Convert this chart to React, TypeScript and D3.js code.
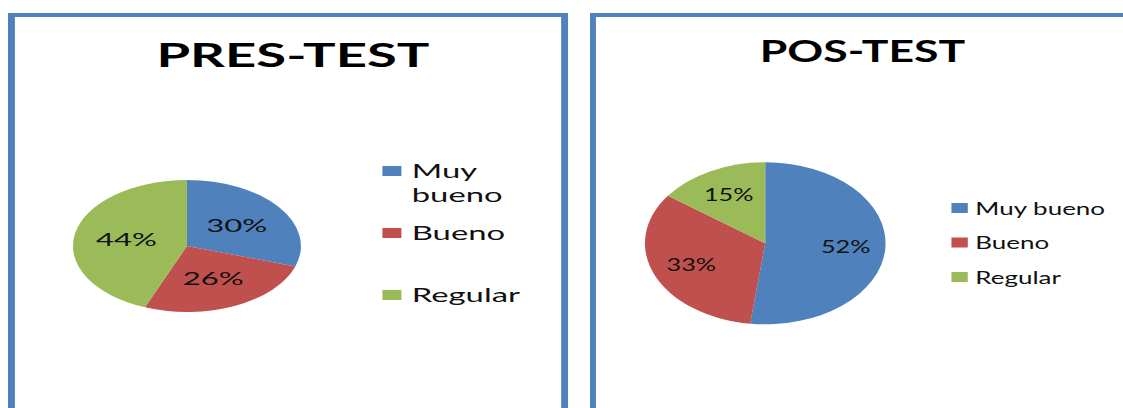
import React from 'react';
import * as d3 from 'd3';

// ---- data ----
const categories = ['Muy bueno', 'Bueno', 'Regular'];
const sliceColors = ['#4F81BD', '#C0504D', '#9BBB59'];
const preTestValues = [30, 26, 44];
const posTestValues = [52, 33, 15];
const chartTitles = ['PRES-TEST', 'POS-TEST'];

// ---- layout (local, unstretched coordinates; each panel is stretched by sx) ----
interface PanelLayout {
  x0: number; sx: number; width: number;
  titleX: number; titleY: number; titleSize: number;
  cx: number; cy: number; r: number; labelR: number; labelSize: number;
  legendX: number; legendTextX: number; legendY0: number; legendStep: number;
  legendSize: number; wrap: boolean; lineH: number;
}

const layouts: PanelLayout[] = [
  {
    x0: 8, sx: 1.727, width: 324.3,
    titleX: 165, titleY: 66.7, titleSize: 31.5,
    cx: 103.6, cy: 246, r: 66, labelR: 0.54, labelSize: 18,
    legendX: 216.8, legendTextX: 233.8, legendY0: 178, legendStep: 62,
    legendSize: 19, wrap: true, lineH: 23.7,
  },
  {
    x0: 590, sx: 1.485, width: 367,
    titleX: 183.5, titleY: 62.3, titleSize: 30,
    cx: 118, cy: 243.3, r: 81, labelR: 0.67, labelSize: 17,
    legendX: 243.4, legendTextX: 259.5, legendY0: 215, legendStep: 34.5,
    legendSize: 17.5, wrap: false, lineH: 20,
  },
];

const BORDER = '#4F81BD';
const FONT = 'Lato, "Open Sans", sans-serif';

function Panel({ title, values, L }: { title: string; values: number[]; L: PanelLayout }) {
  const pie = d3.pie<number>().sort(null).value((d) => d);
  const arcs = pie(values);
  const arc = d3.arc<d3.PieArcDatum<number>>().innerRadius(0).outerRadius(L.r);
  const labelArc = d3
    .arc<d3.PieArcDatum<number>>()
    .innerRadius(L.r * L.labelR)
    .outerRadius(L.r * L.labelR);
  const total = d3.sum(values);
  const color = d3.scaleOrdinal<string, string>().domain(categories).range(sliceColors);

  return (
    <g transform={`translate(${L.x0},0) scale(${L.sx},1)`}>
      <rect x={2} y={15} width={L.width - 4} height={500} fill="#fff" stroke={BORDER} strokeWidth={4} />
      <text
        x={L.titleX}
        y={L.titleY}
        textAnchor="middle"
        fontFamily={FONT}
        fontWeight={700}
        fontSize={L.titleSize}
        fill="#000"
      >
        {title}
      </text>
      <g transform={`translate(${L.cx},${L.cy})`}>
        {arcs.map((a, i) => (
          <path key={i} d={arc(a) || ''} fill={color(categories[i])} />
        ))}
        {arcs.map((a, i) => {
          const [x, y] = labelArc.centroid(a);
          return (
            <text
              key={'l' + i}
              x={x}
              y={y}
              dy="0.36em"
              textAnchor="middle"
              fontFamily={FONT}
              fontSize={L.labelSize}
              fill="#111"
            >
              {`${Math.round((a.data / total) * 100)}%`}
            </text>
          );
        })}
      </g>
      {categories.map((c, i) => {
        const y = L.legendY0 + i * L.legendStep;
        const lines = L.wrap ? c.split(' ') : [c];
        return (
          <g key={'lg' + i}>
            <rect x={L.legendX} y={y - 12} width={11} height={10} fill={color(c)} />
            <text x={L.legendTextX} y={y} fontFamily={FONT} fontSize={L.legendSize} fill="#111">
              {lines.map((t, j) => (
                <tspan key={j} x={L.legendTextX} dy={j === 0 ? 0 : L.lineH}>
                  {t}
                </tspan>
              ))}
            </text>
          </g>
        );
      })}
    </g>
  );
}

export default function App() {
  const series = [preTestValues, posTestValues];
  return (
    <div style={{ position: 'absolute', left: 0, top: 0 }}>
      <svg width={1123} height={408} style={{ display: 'block', background: '#fff' }}>
        {layouts.map((L, i) => (
          <Panel key={i} title={chartTitles[i]} values={series[i]} L={L} />
        ))}
      </svg>
    </div>
  );
}
